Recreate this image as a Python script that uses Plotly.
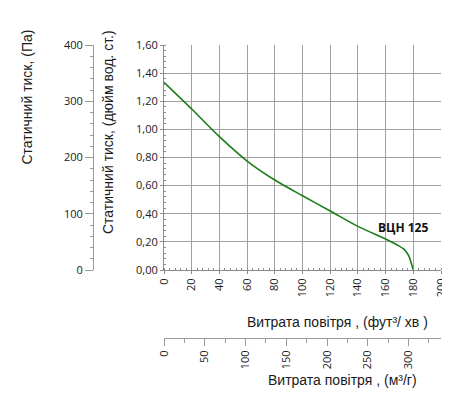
import plotly.graph_objects as go

# Data
flow_cfm = [0, 20, 40, 60, 80, 100, 120, 140, 160, 168, 173, 176.5, 178.5, 180]
pressure_inwg = [1.335, 1.145, 0.948, 0.775, 0.64, 0.528, 0.42, 0.31, 0.22, 0.18, 0.15, 0.105, 0.05, 0.0]
series_name = "ВЦН 125"
label_pos = (172.5, 0.30)

CFM_TO_M3H = 1.699
INWG_TO_PA = 249.09
flow_m3h = [v * CFM_TO_M3H for v in flow_cfm]
pressure_pa = [v * INWG_TO_PA for v in pressure_inwg]

# page body has an 8px margin; size the figure so that it fits the 450x415 window
OFF = 8
W, H = 450 - OFF, 415 - OFF
def px(x):
    return (x - OFF) / W
def py(y):
    return (H - (y - OFF)) / H

tick_font = dict(family="Open Sans", size=11, color="#1a1a1a")
title_font = dict(family="Liberation Sans", size=14, color="#1a1a1a")

fig = go.Figure()
fig.add_trace(go.Scatter(x=flow_cfm, y=pressure_inwg, mode="lines",
                         line=dict(color="#1a7d1a", width=1.6, shape="spline", smoothing=0.8),
                         showlegend=False, hoverinfo="skip"))
# invisible traces to carry the secondary axes
fig.add_trace(go.Scatter(x=flow_m3h, y=pressure_inwg, xaxis="x2", yaxis="y",
                         mode="lines", line=dict(width=0), opacity=0,
                         showlegend=False, hoverinfo="skip"))
fig.add_trace(go.Scatter(x=flow_cfm, y=pressure_pa, xaxis="x", yaxis="y2",
                         mode="lines", line=dict(width=0), opacity=0,
                         showlegend=False, hoverinfo="skip"))

xdom = [px(164), px(441)]
ydom = [py(270), py(45)]

fig.update_layout(
    width=W, height=H,
    margin=dict(l=0, r=0, t=0, b=0, autoexpand=False),
    paper_bgcolor="white", plot_bgcolor="white",
    separators=", ",
    showlegend=False,
    xaxis=dict(domain=xdom, range=[0, 200], dtick=20, tick0=0,
               showgrid=True, gridcolor="#a0a0a0", gridwidth=1,
               showline=True, linecolor="#8c8c8c", linewidth=1,
               ticks="outside", ticklen=3, tickcolor="#8c8c8c",
               minor=dict(dtick=4, ticks="inside", ticklen=2, tickcolor="#8c8c8c", showgrid=False),
               tickangle=-90, tickfont=tick_font, zeroline=False,
               anchor="y", automargin=False),
    yaxis=dict(domain=ydom, range=[0, 1.6], dtick=0.2, tick0=0, tickformat=".2f",
               showgrid=True, gridcolor="#a0a0a0", gridwidth=1,
               showline=True, linecolor="#8c8c8c", linewidth=1,
               ticks="outside", ticklen=3, tickcolor="#8c8c8c",
               minor=dict(dtick=0.04, ticks="inside", ticklen=2, tickcolor="#8c8c8c", showgrid=False),
               tickfont=tick_font, zeroline=False, anchor="x", automargin=False),
    xaxis2=dict(domain=xdom, range=[0, 200 * CFM_TO_M3H], dtick=50, tick0=0,
                overlaying="x", anchor="free", position=py(338), side="bottom",
                showgrid=False, showline=True, linecolor="#9a9a9a", linewidth=1,
                ticks="outside", ticklen=7, tickcolor="#9a9a9a",
                minor=dict(dtick=25, ticks="outside", ticklen=4, tickcolor="#9a9a9a"),
                tickangle=-90, tickfont=tick_font, zeroline=False, automargin=False),
    yaxis2=dict(range=[0, 400], dtick=100, tick0=0,
                overlaying="y", anchor="free", position=px(93), side="left",
                showgrid=False, showline=True, linecolor="#9a9a9a", linewidth=1,
                ticks="outside", ticklen=8, tickcolor="#9a9a9a",
                minor=dict(dtick=20, ticks="outside", ticklen=3, tickcolor="#9a9a9a"),
                tickfont=tick_font, zeroline=False, automargin=False),
    annotations=[
        dict(text="<b>" + series_name + "</b>", x=label_pos[0], y=label_pos[1], xref="x", yref="y",
             showarrow=False, font=dict(family="Open Sans", size=12, color="#111"),
             xanchor="center", yanchor="middle"),
        dict(text="Витрата повітря , (фут³/ хв )", x=px(337), y=py(322), xref="paper", yref="paper",
             showarrow=False, font=title_font, xanchor="center", yanchor="middle"),
        dict(text="Витрата повітря , (м³/г)", x=px(342), y=py(380), xref="paper", yref="paper",
             showarrow=False, font=title_font, xanchor="center", yanchor="middle"),
        dict(text="Статичний тиск, (дюйм вод. ст.)", x=px(108), y=py(28), xref="paper", yref="paper",
             showarrow=False, font=title_font, textangle=-90, xanchor="center", yanchor="top"),
        dict(text="Статичний тиск, (Па)", x=px(27), y=py(28), xref="paper", yref="paper",
             showarrow=False, font=title_font, textangle=-90, xanchor="center", yanchor="top"),
    ],
)

fig.write_html("out.html")
